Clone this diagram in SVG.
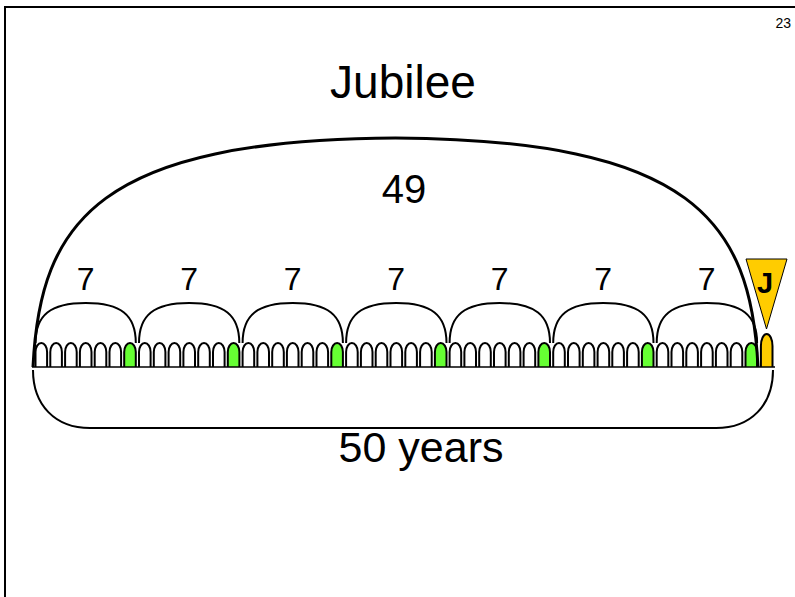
<svg xmlns="http://www.w3.org/2000/svg" width="795" height="597" viewBox="0 0 795 597">
<style>
text{font-family:"Liberation Sans",Arial,sans-serif;fill:#000}
.yr{fill:#fff;stroke:#000;stroke-width:2}
.g{fill:#66ff33}
.gold{fill:#ffcc00}
.wk{fill:none;stroke:#000;stroke-width:2}
</style>
<defs>
<path id="yr" d="M0,367 V352 A5.8,9 0 0 1 11.6,352 V367"/>
</defs>
<rect x="5" y="7" width="800" height="600" fill="none" stroke="#000" stroke-width="2"/>
<text x="791" y="28" font-size="14" text-anchor="end">23</text>
<g id="title"><text x="403" y="98" font-size="46" text-anchor="middle">Jubilee</text></g>
<g id="years">
<use href="#yr" x="35.5" class="yr"/><use href="#yr" x="50.3" class="yr"/><use href="#yr" x="65.1" class="yr"/><use href="#yr" x="79.9" class="yr"/><use href="#yr" x="94.7" class="yr"/><use href="#yr" x="109.5" class="yr"/><use href="#yr" x="124.2" class="yr g"/>
<use href="#yr" x="139.0" class="yr"/><use href="#yr" x="153.8" class="yr"/><use href="#yr" x="168.6" class="yr"/><use href="#yr" x="183.4" class="yr"/><use href="#yr" x="198.2" class="yr"/><use href="#yr" x="213.0" class="yr"/><use href="#yr" x="227.8" class="yr g"/>
<use href="#yr" x="242.6" class="yr"/><use href="#yr" x="257.4" class="yr"/><use href="#yr" x="272.2" class="yr"/><use href="#yr" x="286.9" class="yr"/><use href="#yr" x="301.7" class="yr"/><use href="#yr" x="316.5" class="yr"/><use href="#yr" x="331.3" class="yr g"/>
<use href="#yr" x="346.1" class="yr"/><use href="#yr" x="360.9" class="yr"/><use href="#yr" x="375.7" class="yr"/><use href="#yr" x="390.5" class="yr"/><use href="#yr" x="405.3" class="yr"/><use href="#yr" x="420.1" class="yr"/><use href="#yr" x="434.9" class="yr g"/>
<use href="#yr" x="449.6" class="yr"/><use href="#yr" x="464.4" class="yr"/><use href="#yr" x="479.2" class="yr"/><use href="#yr" x="494.0" class="yr"/><use href="#yr" x="508.8" class="yr"/><use href="#yr" x="523.6" class="yr"/><use href="#yr" x="538.4" class="yr g"/>
<use href="#yr" x="553.2" class="yr"/><use href="#yr" x="568.0" class="yr"/><use href="#yr" x="582.8" class="yr"/><use href="#yr" x="597.6" class="yr"/><use href="#yr" x="612.3" class="yr"/><use href="#yr" x="627.1" class="yr"/><use href="#yr" x="641.9" class="yr g"/>
<use href="#yr" x="656.7" class="yr"/><use href="#yr" x="671.5" class="yr"/><use href="#yr" x="686.3" class="yr"/><use href="#yr" x="701.1" class="yr"/><use href="#yr" x="715.9" class="yr"/><use href="#yr" x="730.7" class="yr"/><use href="#yr" x="745.5" class="yr g"/>
</g>
<g id="jubilee-year">
<path d="M760.9,367 V346 A5.8,12 0 0 1 772.5,346 V367" class="yr gold"/>
<polygon points="746,259 787,259 766.5,329" fill="#ffcc00" stroke="#000" stroke-width="1"/>
<text x="765" y="293" font-size="29" font-weight="bold" text-anchor="middle">J</text>
</g>
<g id="connectors">
<line x1="32" y1="367" x2="775" y2="367" stroke="#000" stroke-width="1.5"/>
<path class="wk" d="M35.5,343 C35.5,315 50.5,303 85.7,303 C120.9,303 135.8,315 135.8,343"/>
<path class="wk" d="M139,343 C139,315 154,303 189.2,303 C224.4,303 239.3,315 239.3,343"/>
<path class="wk" d="M242.6,343 C242.6,315 257.6,303 292.7,303 C327.8,303 342.9,315 342.9,343"/>
<path class="wk" d="M346.1,343 C346.1,315 361.1,303 396.2,303 C431.3,303 446.5,315 446.5,343"/>
<path class="wk" d="M449.6,343 C449.6,315 464.6,303 499.7,303 C534.8,303 550,315 550,343"/>
<path class="wk" d="M553.2,343 C553.2,315 568.2,303 603.2,303 C638.2,303 653.5,315 653.5,343"/>
<path class="wk" d="M656.7,343 C656.7,315 671.7,303 706.7,303 C741.7,303 757.1,315 757.1,343"/>
<path d="M33,367 C40,220 100,140 395.5,138 C691,140 751,220 758,367" fill="none" stroke="#000" stroke-width="3"/>
<path d="M33,370 C33,405 55,428 90,428 L716,428 C751,428 773,405 773,370" fill="none" stroke="#000" stroke-width="2"/>
</g>
<g id="labels">
<text x="404" y="203" font-size="40" text-anchor="middle">49</text>
<text x="85.7" y="290" font-size="32" text-anchor="middle">7</text>
<text x="189.2" y="290" font-size="32" text-anchor="middle">7</text>
<text x="292.7" y="290" font-size="32" text-anchor="middle">7</text>
<text x="396.2" y="290" font-size="32" text-anchor="middle">7</text>
<text x="499.7" y="290" font-size="32" text-anchor="middle">7</text>
<text x="603.2" y="290" font-size="32" text-anchor="middle">7</text>
<text x="706.7" y="290" font-size="32" text-anchor="middle">7</text>
<text x="421" y="462" font-size="43" text-anchor="middle">50 years</text>
</g>
</svg>
